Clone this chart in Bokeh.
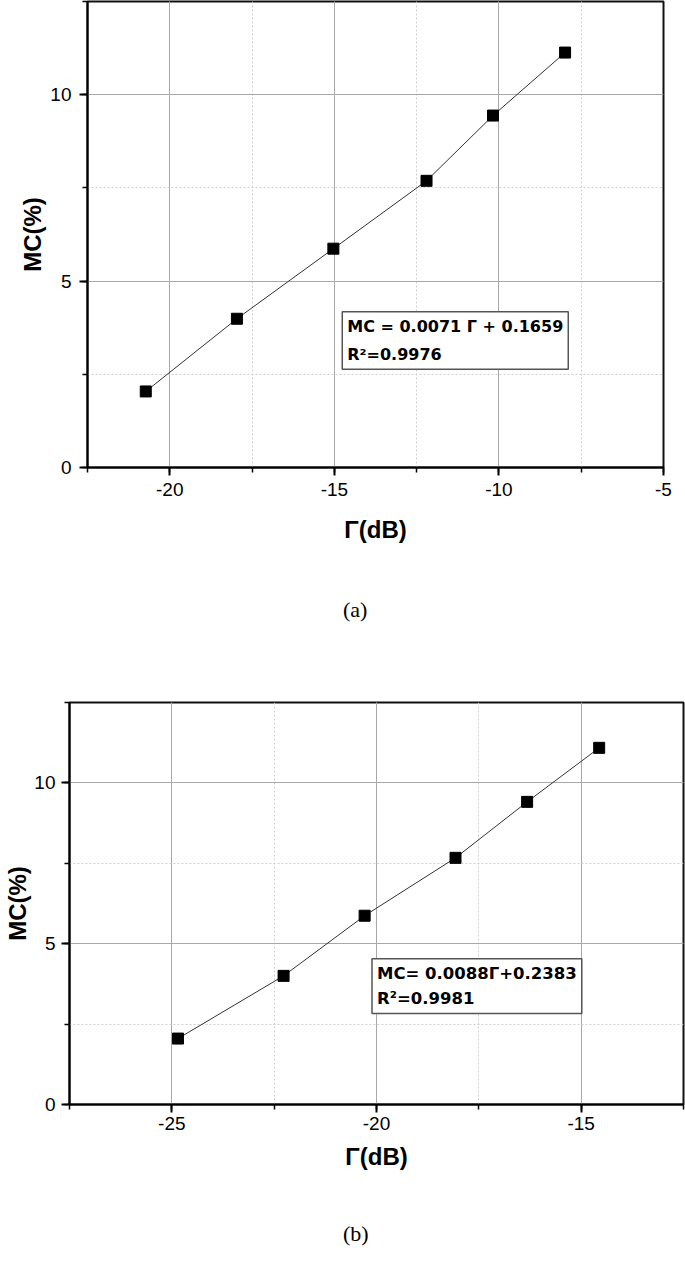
from bokeh.plotting import figure
from bokeh.models import (SingleIntervalTicker, Label, Range1d, ColumnDataSource,
                          CustomJSTickFormatter, Div)
from bokeh.embed import file_html
from bokeh.resources import INLINE

# ---- data ----
gamma_a = [-20.73, -17.96, -15.03, -12.20, -10.18, -7.99]
mc_a = [2.04, 3.99, 5.87, 7.69, 9.44, 11.13]
gamma_b = [-24.85, -22.27, -20.29, -18.07, -16.32, -14.56]
mc_b = [2.05, 4.00, 5.87, 7.67, 9.41, 11.09]
eq_a = "MC = 0.0071 \u0393 + 0.1659\nR\u00b2=0.9976"
eq_b = "MC= 0.0088\u0393+0.2383\nR\u00b2=0.9981"
x_label = "\u0393(dB)"
y_label = "MC(%)"
caption_a = "(a)"
caption_b = "(b)"

TICK_FONT = "Liberation Sans"


def make_fig(xs, ys, xrange, yrange, height, borders, tick_standoff, label_standoff,
             ytick_standoff, ylabel_standoff, eq_text, eq_pos, eq_size, eq_lh):
    left, right, top, bottom = borders
    p = figure(width=685, height=height, output_backend="svg", toolbar_location=None,
               x_range=Range1d(*xrange), y_range=Range1d(*yrange),
               min_border_left=left, min_border_right=right,
               min_border_top=top, min_border_bottom=bottom)
    p.background_fill_color = "white"
    p.border_fill_color = "white"
    p.outline_line_color = "#111111"
    p.outline_line_width = 2

    for ax in (p.xaxis[0], p.yaxis[0]):
        ax.ticker = SingleIntervalTicker(interval=5, num_minor_ticks=2)
        ax.formatter = CustomJSTickFormatter(code="return String(tick);")
        ax.axis_line_color = "black"
        ax.axis_line_width = 2
        ax.major_tick_line_color = "black"
        ax.major_tick_line_width = 2
        ax.major_tick_in = 0
        ax.major_tick_out = 8
        ax.minor_tick_line_color = "black"
        ax.minor_tick_line_width = 1.5
        ax.minor_tick_in = 0
        ax.minor_tick_out = 5
        ax.major_label_text_font = TICK_FONT
        ax.major_label_text_font_size = "19px"
        ax.major_label_text_color = "black"
        ax.axis_label_text_font = TICK_FONT
        ax.axis_label_text_font_style = "bold"
        ax.axis_label_text_font_size = "24px"
        ax.axis_label_text_color = "black"
    p.xaxis.axis_label = x_label
    p.yaxis.axis_label = y_label
    p.xaxis.major_label_standoff = tick_standoff
    p.yaxis.major_label_standoff = ytick_standoff
    p.xaxis.axis_label_standoff = label_standoff
    p.yaxis.axis_label_standoff = ylabel_standoff

    for g in (p.xgrid[0], p.ygrid[0]):
        g.grid_line_color = "#a8a8a8"
        g.grid_line_width = 1
        g.minor_grid_line_color = "#cfcfcf"
        g.minor_grid_line_width = 1
        g.minor_grid_line_dash = "2 2"

    src = ColumnDataSource(dict(x=xs, y=ys))
    p.line("x", "y", source=src, line_color="#333333", line_width=1)
    p.scatter("x", "y", source=src, marker="square", size=11,
              fill_color="black", line_color="black")

    p.add_layout(Label(x=eq_pos[0], y=eq_pos[1], text=eq_text, anchor="top_left",
                       text_font="DejaVu Sans", text_font_style="bold",
                       text_font_size=eq_size, text_line_height=eq_lh,
                       text_color="black", padding=5,
                       border_line_color="#555555", border_line_width=1.5,
                       background_fill_color="white"))
    return p


def caption_div(text, height, pad_top):
    html = ('<p style="margin:0; padding-top:%dpx; padding-left:343px; text-align:left; '
            'font-family:\'Liberation Serif\'; font-size:22px; line-height:26px; '
            'color:black;">%s</p>' % (pad_top, text))
    return Div(text=html, width=685, height=height, margin=0)


p1 = make_fig(gamma_a, mc_a, (-22.5, -5), (0, 12.5), 560, (87, 22, 1, 93),
              7, 17, 8, 1, eq_a, (-14.76, 4.18), "16px", 1.5)
p2 = make_fig(gamma_b, mc_b, (-27.5, -12.5), (0, 12.5), 560, (69, 2, 62, 96),
              4, 10, 6, 0, eq_b, (-20.11, 4.53), "16.5px", 1.35)
div_a = caption_div(caption_a, 80, 37)
div_b = caption_div(caption_b, 62, 21)

open("out.html", "w").write(file_html([p1, div_a, p2, div_b], INLINE))
